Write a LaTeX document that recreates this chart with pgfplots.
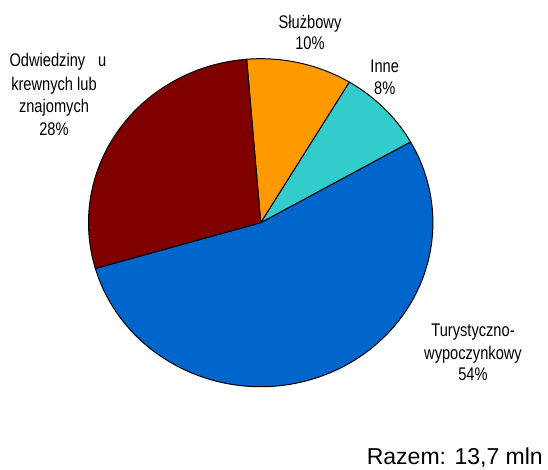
\documentclass[border=0pt]{standalone}
\usepackage{pgfplots}
\pgfplotsset{compat=1.18}
\usepackage{fontspec}
\setmainfont{Liberation Sans}
\newfontfamily\narrowfont[FakeStretch=0.8]{Liberation Sans}
\newcommand\lbl{\narrowfont\fontsize{18.3bp}{23bp}\selectfont}
\definecolor{cTur}{HTML}{0066CC}
\definecolor{cInn}{HTML}{33CCCC}
\definecolor{cSlu}{HTML}{FF9900}
\definecolor{cOdw}{HTML}{800000}
% shares (percent), counterclockwise from the start angle
\def\vTur{53.7}
\def\vInn{8.2}
\def\vSlu{9.9}
\def\vOdw{28.2}
\def\startA{-163.8}
\pgfmathsetmacro\aA{\startA}
\pgfmathsetmacro\aB{\aA+3.6*\vTur}
\pgfmathsetmacro\aC{\aB+3.6*\vInn}
\pgfmathsetmacro\aD{\aC+3.6*\vSlu}
\pgfmathsetmacro\aE{\aD+3.6*\vOdw}
\def\cx{260.7}
\def\cy{247.3}
\newcommand\piewedge[3]{%
  \filldraw[fill=#3,draw=black,line width=1bp,line join=round]
    (axis cs:\cx,\cy) -- ++(#1:172.2bp and 164bp)
    arc[start angle=#1,end angle=#2,x radius=172.2bp,y radius=164bp] -- cycle;}
\begin{document}
\begin{tikzpicture}
\begin{axis}[
  scale only axis, width=548bp, height=470bp,
  xmin=0, xmax=548, ymin=0, ymax=470,
  hide axis, clip=false]
\path (axis cs:0,0) rectangle (axis cs:548,470);
\piewedge{\aA}{\aB}{cTur}
\piewedge{\aB}{\aC}{cInn}
\piewedge{\aC}{\aD}{cSlu}
\piewedge{\aD}{\aE}{cOdw}
% labels
\node[anchor=base,font=\lbl] at (axis cs:310,441) {Służbowy};
\node[anchor=base,font=\lbl] at (axis cs:310,420) {10\%};
\node[anchor=base,font=\lbl] at (axis cs:384.7,397.3) {Inne};
\node[anchor=base,font=\lbl] at (axis cs:384.7,375) {8\%};
\node[anchor=base,font=\lbl] at (axis cs:58,403.3) {Odwiedziny\hspace{13bp}u};
\node[anchor=base,font=\lbl] at (axis cs:54,379.3) {krewnych lub};
\node[anchor=base,font=\lbl] at (axis cs:54,357) {znajomych};
\node[anchor=base,font=\lbl] at (axis cs:54,334) {28\%};
\node[anchor=base,font=\lbl] at (axis cs:473,133.3) {Turystyczno-};
\node[anchor=base,font=\lbl] at (axis cs:473,110) {wypoczynkowy};
\node[anchor=base,font=\lbl] at (axis cs:473,89) {54\%};
\node[anchor=base east,inner sep=0pt,font=\fontsize{23bp}{27bp}\selectfont] at (axis cs:543,5.5) {Razem: 13,7 mln};
\end{axis}
\end{tikzpicture}
\end{document}
